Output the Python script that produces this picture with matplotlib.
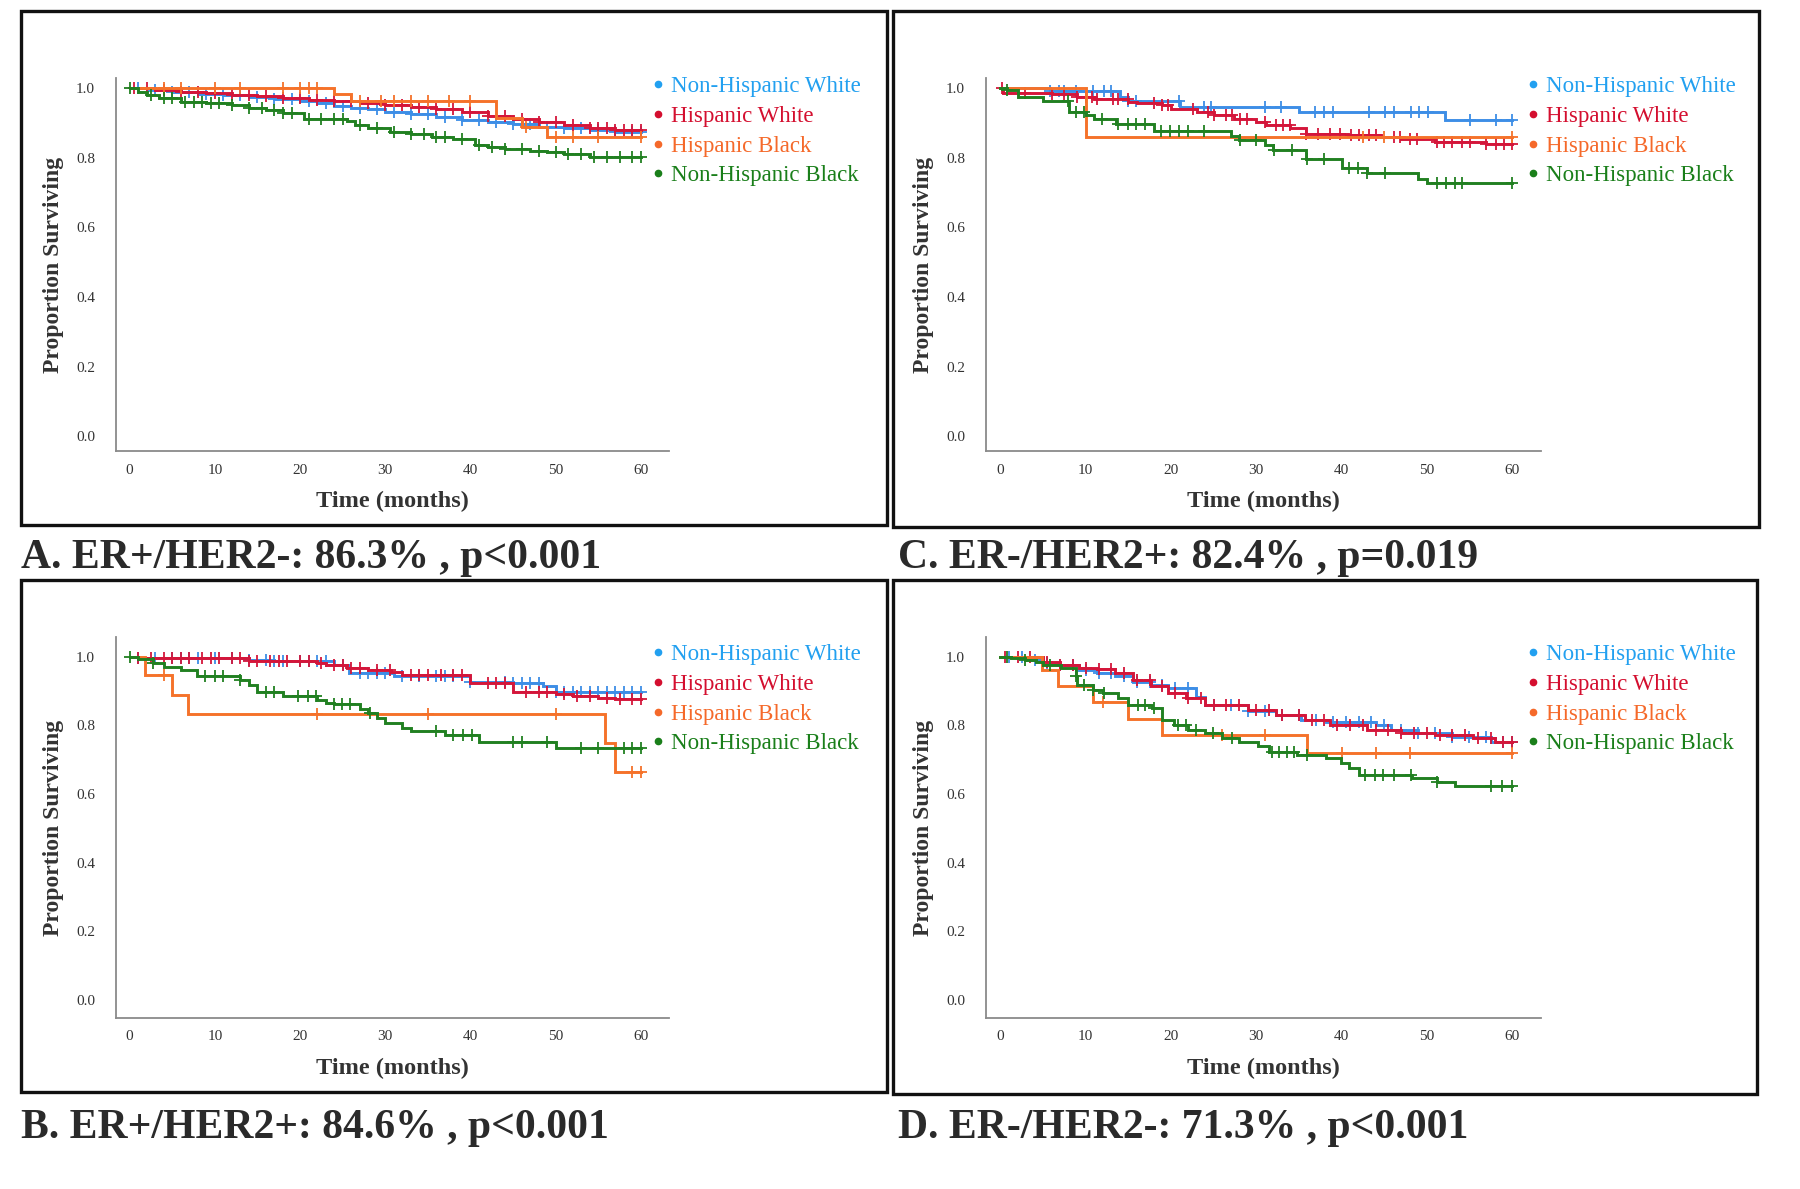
import numpy as np
import matplotlib
matplotlib.use("Agg")
import matplotlib.pyplot as plt
from matplotlib.lines import Line2D
from matplotlib.patches import Rectangle

plt.rcParams["font.family"] = ["Liberation Serif", "DejaVu Serif"]

# ------------------------------------------------------------------
# data (Kaplan-Meier steps: time, survival)
# ------------------------------------------------------------------
groups = ["Non-Hispanic White", "Hispanic White", "Hispanic Black", "Non-Hispanic Black"]

# A. ER+/HER2-
a_nhw_t = [0, 2, 5, 8, 11, 14, 17, 20, 22, 24, 26, 28, 30, 33, 36, 39, 42, 45, 48, 51, 54, 57]
a_nhw_s = [1.0, .995, .99, .985, .98, .975, .97, .965, .958, .95, .945, .94, .933, .926, .918, .91, .903, .897, .89, .885, .88, .876]
a_hw_t = [0, 3, 6, 9, 12, 15, 18, 21, 24, 27, 30, 33, 36, 39, 42, 45, 48, 51, 54, 57]
a_hw_s = [1.0, .995, .99, .986, .982, .978, .973, .968, .963, .958, .952, .946, .94, .932, .922, .912, .903, .895, .887, .879]
a_hb_t = [0, 24, 26, 43, 46, 49]
a_hb_s = [1.0, .983, .963, .915, .888, .861]
a_nhb_t = [0, 1, 2, 3.5, 6, 9, 12, 14, 16, 18, 20.5, 25.5, 26.5, 28, 30.5, 33, 35.5, 38, 40.5, 42, 44, 47, 49, 51, 54]
a_nhb_s = [1.0, .99, .982, .972, .962, .958, .952, .945, .937, .93, .913, .905, .895, .885, .875, .868, .861, .855, .838, .832, .826, .82, .816, .81, .803]
a_nhw_c = [1, 3, 5, 7, 9, 11, 13, 15, 17, 19, 21, 23, 25, 27, 29, 31, 33, 35, 37, 39, 41, 43, 45, 47, 49, 51, 53, 55, 57, 59, 60]
a_hw_c = [0.5, 2, 4, 6, 8, 10, 12, 14, 16, 18, 20, 22, 24, 26, 28, 30, 32, 34, 36, 38, 40, 42, 44, 46, 48, 50, 52, 54, 55, 56, 57, 58, 59, 60]
a_hb_c = [4, 6, 10, 13, 18, 20, 21, 22, 27, 29.5, 31, 33, 35, 37.5, 40, 46.5, 50, 52, 55, 60]
a_nhb_c = [0, 2.5, 4, 5, 6.5, 7.5, 8.5, 9.5, 10.5, 12, 14, 15.5, 17, 18, 19, 21, 22.5, 24, 25, 27, 29, 31, 33,
           34.5, 36, 37, 39, 41, 42.5, 44, 46, 48, 50, 51.5, 53, 54.5, 56, 57.5, 59, 60]

# B. ER+/HER2+
b_nhw_t = [0, 1, 14, 17, 24, 25.7, 31, 40, 45, 48.5, 50]
b_nhw_s = [1.0, .995, .99, .987, .975, .951, .942, .925, .922, .913, .897]
b_hw_t = [0, 1, 14, 22, 23, 25.5, 28, 30.7, 32, 40, 45, 50, 52, 55, 57]
b_hw_s = [1.0, .995, .987, .981, .974, .968, .961, .954, .947, .922, .898, .89, .885, .88, .875]
b_hb_t = [0, 1.8, 5, 6.8, 55.8, 57]
b_hb_s = [1.0, .947, .888, .832, .748, .665]
b_nhb_t = [0, 1, 2.8, 4, 6, 7.9, 13, 14, 15, 18, 22, 23, 24, 27, 28, 29, 30, 32, 33, 37, 41, 50]
b_nhb_s = [1.0, .993, .98, .97, .96, .942, .932, .918, .898, .886, .874, .864, .861, .848, .835, .82, .806, .791, .782, .772, .752, .733]
b_nhw_c = [1, 3, 5, 6, 7, 8, 10, 12, 14, 16, 17, 18, 20, 21, 22, 23, 25, 27, 28, 29, 30, 32, 34, 36, 37, 38, 40,
           44, 45, 46, 47, 48, 50, 51, 52, 53, 54, 55, 56, 57, 58, 59, 60]
b_hw_c = [1, 2.5, 4, 5, 6, 7, 8.5, 9.5, 10.5, 12, 13, 14, 15, 16.5, 17.5, 18.5, 20, 21, 22.5, 24, 25, 26, 27, 29,
          30.5, 33, 34, 35, 36.5, 38, 39, 42, 43, 44, 46.5, 48, 49, 51, 52.5, 54, 56, 57.5, 59, 60]
b_hb_c = [4, 22, 35, 50, 59, 60]
b_nhb_c = [0, 2.8, 8.9, 10, 11, 13, 16, 17, 19.8, 20.9, 21.9, 24, 24.9, 25.9, 28.2, 36, 38, 39.1, 40.2, 45, 46,
           49, 53, 55, 58, 59, 60]

# C. ER-/HER2+
c_nhw_t = [0, 5.8, 14, 15, 21, 35, 52.1]
c_nhw_s = [1.0, .993, .976, .963, .947, .931, .909]
c_hw_t = [0, 0.3, 6, 9, 11, 15, 16, 19, 20, 23, 25, 27.4, 30, 31.2, 34, 35.8, 40.8, 44.6, 47, 51, 57]
c_hw_s = [1.0, .988, .984, .976, .971, .962, .957, .952, .942, .933, .923, .913, .904, .896, .887, .87, .865, .861, .854, .846, .841]
c_hb_t = [0, 10]
c_hb_s = [1.0, .861]
c_nhb_t = [0, 0.8, 2, 5, 8, 10, 11, 13.6, 18, 27, 28, 31, 32, 35.8, 40, 43, 49, 50]
c_nhb_s = [1.0, .995, .976, .963, .933, .923, .913, .899, .877, .862, .853, .837, .822, .798, .771, .757, .74, .729]
c_nhw_c = [5.8, 6.9, 7.5, 8.8, 10.9, 12.1, 13, 15, 15.9, 20.9, 23.9, 24.7, 31, 32.9, 36.9, 38, 39, 43.2, 45.1,
           46.1, 48.2, 49.1, 50.1, 55.1, 58.1, 60]
c_hw_c = [0.2, 2.9, 6.0, 7.5, 9.0, 10.0, 10.7, 11.3, 13.2, 13.8, 14.9, 18.0, 19.0, 19.7, 22.6, 24.3, 25.1, 26.4,
          27.2, 28.1, 28.9, 31.0, 32.3, 33.1, 33.9, 35.8, 37.3, 38.6, 39.8, 41.1, 42.0, 43.2, 44.0, 46.1, 46.9,
          48.0, 48.8, 51.2, 52.0, 53.0, 54.1, 55.1, 57.0, 58.1, 59.1, 60]
c_hb_c = [42.5, 45, 60]
c_nhb_c = [0.8, 7.9, 8.8, 9.8, 11.9, 13.8, 14.9, 15.9, 17.0, 18.8, 19.9, 20.9, 22.0, 23.9, 28.1, 30.0, 32.1,
           34.2, 36.0, 37.9, 40.9, 41.9, 43.0, 45.1, 51.2, 52.2, 53.3, 54.1, 60]

# D. ER-/HER2-
d_nhw_t = [0, 2.9, 5, 7, 9.2, 11.3, 13.4, 15.5, 17.6, 19.7, 22.9, 24, 29, 32.3, 35.3, 38.2, 44, 45.8, 49, 53, 57.5]
d_nhw_s = [1.0, .99, .98, .976, .961, .951, .942, .927, .916, .908, .883, .859, .84, .83, .816, .81, .8, .786, .777, .767, .752]
d_hw_t = [0, 5, 7, 9.2, 11.3, 13.4, 15.5, 17.6, 19.7, 21.8, 24, 29, 32.3, 35.7, 38.6, 43, 47, 51, 55.4, 58]
d_hw_s = [1.0, .985, .975, .968, .964, .951, .932, .913, .893, .879, .859, .845, .83, .816, .801, .786, .777, .772, .762, .752]
d_hb_t = [0, 4.9, 6.8, 10.9, 14.9, 18.9, 35.9]
d_hb_s = [1.0, .961, .913, .867, .818, .772, .719]
d_nhb_t = [0, 1.2, 2.9, 4.2, 5, 7.1, 8.8, 9, 10.9, 12, 13.8, 14.9, 17.8, 18.9, 20.3, 22, 24, 26, 28, 30.2, 31.5,
           34.8, 38.2, 39.9, 40.9, 42, 48.3, 51.2, 53.3]
d_nhb_s = [1.0, .995, .99, .985, .976, .966, .942, .916, .903, .893, .879, .859, .85, .816, .801, .786, .777, .762,
           .752, .738, .723, .714, .704, .689, .675, .655, .646, .636, .624]
d_nhw_c = [1, 2.5, 4, 5.5, 7, 8.5, 10, 11.5, 13, 14.5, 16, 17.5, 19, 20.5, 22, 25, 27, 29, 31, 33, 35, 37, 39,
           40.5, 42, 43.5, 45, 47, 49, 51, 53, 55, 57, 59, 60]
d_hw_c = [0.5, 2, 3.5, 5.5, 7, 8.5, 10, 11.5, 13, 14.5, 16, 17.5, 19, 20.5, 22, 23.5, 25, 26.5, 28, 30, 31.5, 33,
          35, 36.5, 38, 39.5, 41, 42.5, 44, 45.5, 47, 48.5, 50, 51.5, 53, 54.5, 56, 57.5, 59, 60]
d_hb_c = [12, 26, 31, 40, 44, 48, 60]
d_nhb_c = [0.8, 2.9, 5.8, 8.8, 9.8, 10.9, 12.1, 16.1, 16.9, 18, 20.8, 21.8, 22.9, 24.9, 27.1, 31.9, 32.7, 33.6,
           34.4, 35.9, 42.8, 43.9, 44.9, 46.2, 48.1, 51.2, 57.5, 58.8, 60]

titles = ["A. ER+/HER2-: 86.3% , p<0.001", "B. ER+/HER2+: 84.6% , p<0.001",
          "C. ER-/HER2+: 82.4% , p=0.019", "D. ER-/HER2-: 71.3% , p<0.001"]

x_ticks = [0, 10, 20, 30, 40, 50, 60]
y_ticks = [0.0, 0.2, 0.4, 0.6, 0.8, 1.0]

line_colors = ["#3d8ee6", "#d4163a", "#f5722a", "#218021"]
text_colors = ["#22a0f0", "#d40f2f", "#f5692a", "#1a7f1a"]

panels = [
    dict(title=titles[0], steps=[(a_nhw_t, a_nhw_s), (a_hw_t, a_hw_s), (a_hb_t, a_hb_s), (a_nhb_t, a_nhb_s)],
         cens=[a_nhw_c, a_hw_c, a_hb_c, a_nhb_c],
         box=(21, 11, 887, 525), ax=(116, 78, 669, 451), xl=(-1.6, 63.3), yl=(-0.043, 1.03),
         leg=(652, 76), ttl=(21, 558)),
    dict(title=titles[1], steps=[(b_nhw_t, b_nhw_s), (b_hw_t, b_hw_s), (b_hb_t, b_hb_s), (b_nhb_t, b_nhb_s)],
         cens=[b_nhw_c, b_hw_c, b_hb_c, b_nhb_c],
         box=(21, 580, 887, 1092), ax=(116, 637, 669, 1018), xl=(-1.6, 63.3), yl=(-0.053, 1.057),
         leg=(652, 644), ttl=(21, 1128)),
    dict(title=titles[2], steps=[(c_nhw_t, c_nhw_s), (c_hw_t, c_hw_s), (c_hb_t, c_hb_s), (c_nhb_t, c_nhb_s)],
         cens=[c_nhw_c, c_hw_c, c_hb_c, c_nhb_c],
         box=(893, 11, 1759, 527), ax=(986, 78, 1541, 451), xl=(-1.7, 63.4), yl=(-0.043, 1.03),
         leg=(1527, 76), ttl=(898, 558)),
    dict(title=titles[3], steps=[(d_nhw_t, d_nhw_s), (d_hw_t, d_hw_s), (d_hb_t, d_hb_s), (d_nhb_t, d_nhb_s)],
         cens=[d_nhw_c, d_hw_c, d_hb_c, d_nhb_c],
         box=(893, 580, 1757, 1094), ax=(986, 637, 1541, 1018), xl=(-1.7, 63.4), yl=(-0.053, 1.057),
         leg=(1527, 644), ttl=(898, 1128)),
]

W, H = 1800, 1189
fig = plt.figure(figsize=(W / 100, H / 100), dpi=100)
fig.patch.set_facecolor("white")


def fx(px):
    return px / W


def fy(py):
    return 1 - py / H


for p in panels:
    x0, y0, x1, y1 = p["box"]
    fig.add_artist(Rectangle((fx(x0), fy(y1)), fx(x1 - x0), (y1 - y0) / H, transform=fig.transFigure,
                             fill=False, ec="#111111", lw=2.4))
    ax0, ay0, ax1, ay1 = p["ax"]
    ax = fig.add_axes([fx(ax0), fy(ay1), fx(ax1 - ax0), (ay1 - ay0) / H])
    ax.patch.set_alpha(0)

    for (t, s), c, col in zip(p["steps"], p["cens"], line_colors):
        t = np.asarray(t, float)
        s = np.asarray(s, float)
        tt = np.append(t, 60)
        ss = np.append(s, s[-1])
        ax.step(tt, ss, where="post", color=col, lw=2.1, solid_joinstyle="miter")
        c = np.asarray(c, float)
        idx = np.searchsorted(tt, c, side="right") - 1
        ax.plot(c, ss[idx], ls="none", marker="+", ms=8, mew=1.3, color=col)

    ax.set_xlim(*p["xl"])
    ax.set_ylim(*p["yl"])
    ax.set_xticks(x_ticks)
    ax.set_yticks(y_ticks)
    ax.set_yticklabels([f"{v:.1f}" for v in y_ticks])
    ax.tick_params(length=0, labelsize=11, labelcolor="#333333")
    ax.tick_params(axis="y", pad=15)
    ax.tick_params(axis="x", pad=9)
    for sp in ("top", "right"):
        ax.spines[sp].set_visible(False)
    for sp in ("left", "bottom"):
        ax.spines[sp].set_color("#8a8a8a")
        ax.spines[sp].set_linewidth(1.3)
    ax.set_xlabel("Time (months)", fontsize=17.5, fontweight="bold", color="#333333", labelpad=10)
    ax.set_ylabel("Proportion Surviving", fontsize=17, fontweight="bold", color="#333333", labelpad=9)

    handles = [Line2D([], [], ls="none", marker="o", ms=4.5, color=col) for col in text_colors]
    lx, ly = p["leg"]
    ax.legend(handles, groups, loc="upper left", bbox_to_anchor=(fx(lx), fy(ly)),
              bbox_transform=fig.transFigure, frameon=False, labelcolor=text_colors,
              prop={"family": "Liberation Serif", "size": 16.5}, handlelength=0.5,
              handletextpad=0.35, labelspacing=0.38, borderpad=0, borderaxespad=0)

    tx, ty = p["ttl"]
    fig.text(fx(tx), fy(ty), p["title"], fontsize=30, fontweight="bold", color="#2a2a2a",
             va="center", ha="left")

fig.savefig("out.png", dpi=100, facecolor="white")
